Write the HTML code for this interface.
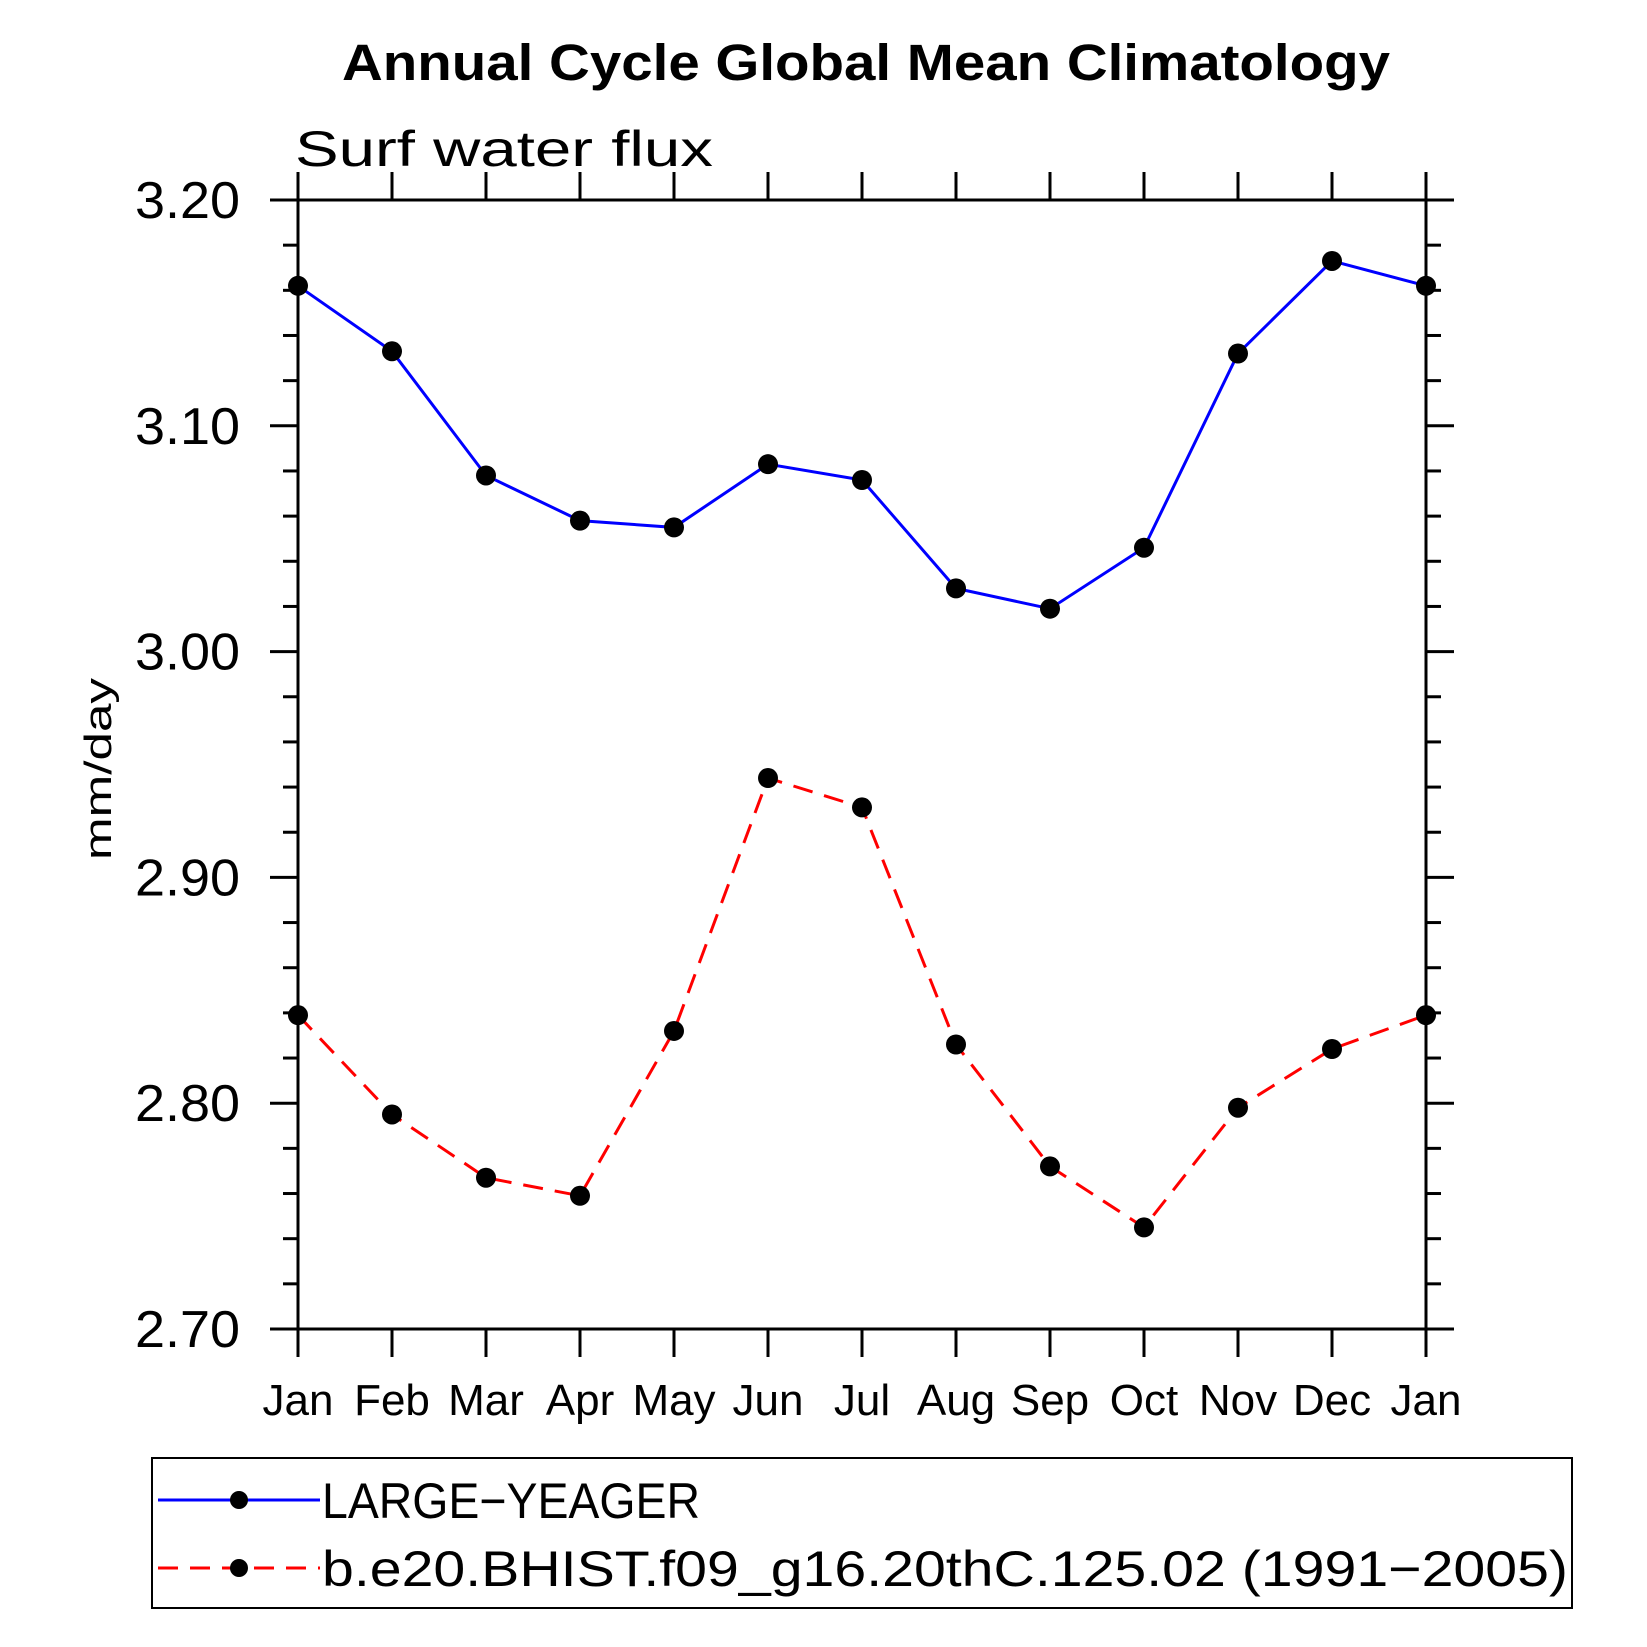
<!DOCTYPE html>
<html><head><meta charset="utf-8"><style>
html,body{margin:0;padding:0;background:#fff;}
svg{display:block;}
text{font-family:"Liberation Sans",sans-serif;}
</style></head><body>
<svg id="chart" width="1647" height="1647" viewBox="0 0 1647 1647" xmlns="http://www.w3.org/2000/svg">
<text x="866" y="80" text-anchor="middle" font-size="51" font-weight="bold" textLength="1048" lengthAdjust="spacingAndGlyphs">Annual Cycle Global Mean Climatology</text>
<text x="295" y="166" font-size="50" font-weight="300" textLength="418" lengthAdjust="spacingAndGlyphs">Surf water flux</text>
<text transform="translate(111,769) rotate(-90)" text-anchor="middle" font-size="38" textLength="182" lengthAdjust="spacingAndGlyphs">mm/day</text>
<g id="axes"></g>
<g id="series"></g>
<rect x="152" y="1458" width="1420" height="150" fill="none" stroke="#000" stroke-width="2"/>
<g>
<line x1="158" y1="1500" x2="320" y2="1500" stroke="#0000ff" stroke-width="3"/>
<circle cx="239" cy="1500" r="9" fill="#000"/>
<text x="322" y="1518" font-size="50" textLength="378" lengthAdjust="spacingAndGlyphs">LARGE−YEAGER</text>
</g>
<g>
<line x1="158" y1="1568" x2="320" y2="1568" stroke="#ff0000" stroke-width="3" stroke-dasharray="20,12"/>
<circle cx="239" cy="1568" r="9" fill="#000"/>
<text x="322" y="1586" font-size="50" textLength="1246" lengthAdjust="spacingAndGlyphs">b.e20.BHIST.f09_g16.20thC.125.02 (1991−2005)</text>
</g>
</svg>
<script>
const months = ["Jan","Feb","Mar","Apr","May","Jun","Jul","Aug","Sep","Oct","Nov","Dec","Jan"];
const largeYeager = [3.162,3.133,3.078,3.058,3.055,3.083,3.076,3.028,3.019,3.046,3.132,3.173,3.162];
const bhist = [2.839,2.795,2.767,2.759,2.832,2.944,2.931,2.826,2.772,2.745,2.798,2.824,2.839];
const yTicks = [2.70,2.80,2.90,3.00,3.10,3.20];
const yTickLabels = ["2.70","2.80","2.90","3.00","3.10","3.20"];
const yMin = 2.70, yMax = 3.20;

const L=298,R=1426,T=200,B=1329;
const NS="http://www.w3.org/2000/svg";
function x(i){return L+(R-L)*i/(months.length-1);}
function y(v){return B-(B-T)*(v-yMin)/(yMax-yMin);}
function mk(tag,attrs,parent){const e=document.createElementNS(NS,tag);for(const k in attrs)e.setAttribute(k,attrs[k]);parent.appendChild(e);return e;}
const axes=document.getElementById('axes');
const ser=document.getElementById('series');
const sw={stroke:"#000","stroke-width":3};
const frame=mk('rect',{x:L,y:T,width:R-L,height:B-T,fill:"none",stroke:"#000","stroke-width":3},axes);


months.forEach((m,i)=>{
  const xx=x(i);
  const t1=mk('line',Object.assign({x1:xx,x2:xx,y1:B,y2:B+28},sw),axes);
  
  
  const t2=mk('line',Object.assign({x1:xx,x2:xx,y1:T-28,y2:T},sw),axes);
  
  
  const tx=mk('text',{x:xx,y:B+86,"text-anchor":"middle","font-size":44},axes);
  tx.textContent=m;
  
  
});
for(let v=yMin;v<=yMax+1e-9;v+=0.02){
  const yy=y(v);
  const major=Math.abs(Math.round(v*10)-v*10)<1e-6;
  const len=major?28:15;
  const a=mk('line',Object.assign({x1:L-len,x2:L,y1:yy,y2:yy},sw),axes);
  
  
  const b=mk('line',Object.assign({x1:R,x2:R+len,y1:yy,y2:yy},sw),axes);
  
  
}
yTicks.forEach((v,i)=>{
  const t=mk('text',{x:135,y:y(v)+18,"font-size":52,textLength:105,lengthAdjust:"spacingAndGlyphs"},axes);
  t.textContent=yTickLabels[i];
  
  
});
function drawSeries(vals,color,dash,name){
  const p=mk('polyline',{points:vals.map((v,i)=>x(i)+","+y(v)).join(" "),fill:"none",stroke:color,"stroke-width":3},ser);
  if(dash)p.setAttribute('stroke-dasharray',dash);
  
  
  vals.forEach((v,i)=>{
    const c=mk('circle',{cx:x(i),cy:y(v),r:10,fill:"#000"},ser);
    
    
  });
}
drawSeries(largeYeager,"#0000ff",null,"large-yeager");
drawSeries(bhist,"#ff0000","20,12","bhist");
</script>
</body></html>
